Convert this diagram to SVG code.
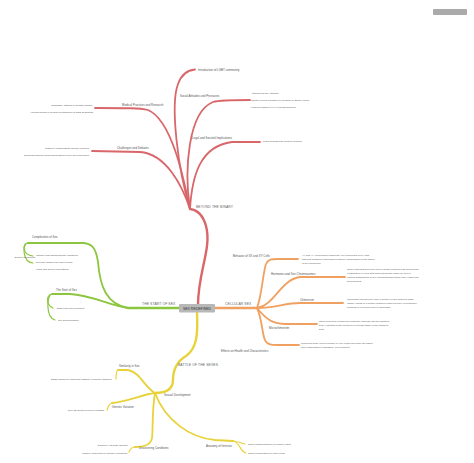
<svg xmlns="http://www.w3.org/2000/svg" width="474" height="463" viewBox="0 0 474 463">
<style>
text{font-family:"Liberation Sans",Arial,sans-serif;}
.main{font-size:3.4px;fill:#666;letter-spacing:0.1px}
.sub{font-size:2.9px;fill:#555}
.leaf{font-size:2.5px;fill:#555}
.r{stroke:#d9676a}
.g{stroke:#8cc63e}
.o{stroke:#f0a060}
.y{stroke:#e8d23a}
path{fill:none;stroke-linecap:round}
.w1{stroke-width:2.4}
.w2{stroke-width:1.8}
.w3{stroke-width:1.2}
</style>
<rect width="474" height="463" fill="#fff"/>
<rect x="433" y="9" width="34" height="6" rx="1" fill="#aaa"/>
<g id="connectors">
<!-- red -->
<path class="r w1" d="M198,305 C198,272 212,248 206,226 C203,215 197,210 190,209"/>
<path class="r w2" d="M190,209 C178,170 170,105 178,84 C182,73 188,70 195,69.5"/>
<path class="r w2" d="M190,209 C184,170 188,112 213,102 C220,100 228,100 250,100"/>
<path class="r w2" d="M190,209 C184,180 172,120 148,110 C140,108 128,108 95,108"/>
<path class="r w2" d="M190,209 C182,185 166,154 140,152 L92,151"/>
<path class="r w2" d="M190,209 C192,176 200,146 232,142 L260,142"/>
<!-- green -->
<path class="g w1" d="M179,308 L128,308"/>
<path class="g w2" d="M128,308 C106,304 100,286 98,262 C96,248 92,243 82,243 L28,243"/>
<path class="g w3" d="M28,243 C22,243 22,255 33,256"/>
<path class="g w3" d="M28,243 C22,243 22,262 33,263"/>
<path class="g w2" d="M128,308 C110,306 92,295 70,294 L52,294"/>
<path class="g w3" d="M52,294 C46,295 46,305 53,308"/>
<path class="g w3" d="M52,294 C46,295 46,318 55,320"/>
<!-- orange -->
<path class="o w1" d="M215,308 L257,308"/>
<path class="o w2" d="M257,308 C262,295 263,272 266,264 C268,259 272,259 278,259 L298,259"/>
<path class="o w2" d="M257,308 C275,305 280,280 300,277 L345,277"/>
<path class="o w2" d="M257,308 C275,308 285,303 300,303 L343,303"/>
<path class="o w2" d="M257,308 C265,318 272,324 285,324 L317,324"/>
<path class="o w2" d="M257,308 C262,318 262,334 265,340 C267,345 272,345 278,345 L299,345"/>
<!-- yellow -->
<path class="y w1" d="M197,312 C198,335 197,348 186,356 C176,362 173,370 173,380 C173,388 168,393 155,393"/>
<path class="y w2" d="M155,393 C145,388 140,372 128,370 L118,370"/>
<path class="y w3" d="M118,370 C116,371 116,377 116,379"/>
<path class="y w2" d="M155,393 C140,395 130,401 112,403"/>
<path class="y w3" d="M112,403 C108,404 108,409 107,410"/>
<path class="y w2" d="M155,393 C152,410 153,430 152,438 C151,445 145,447 135,447"/>
<path class="y w3" d="M135,447 C131,447 130,450 129,452"/>
<path class="y w2" d="M155,393 C165,420 190,438 215,440 L233,441"/>
<path class="y w3" d="M233,441 C238,441 240,443 245,444"/>
<path class="y w3" d="M233,441 C240,442 240,452 246,453"/>
</g>
<g id="root">
<rect x="179" y="304" width="36" height="8.5" rx="1.2" fill="#b8b8b8"/>
<text x="197" y="309.5" text-anchor="middle" style="font-size:3.5px;fill:#333">SEX REDEFINED</text>
</g>
<g id="beyond-the-binary"><text class="main" x="196" y="208.2">BEYOND THE BINARY</text></g>
<g id="intro-lgbt"><text class="sub" x="198" y="70.5">Introduction of LGBT community</text></g>
<g id="social-attitudes"><text class="sub" x="180" y="97.2">Social Attitudes and Pressures</text>
<text class="leaf" x="251" y="94">Attitudes Social Attitudes</text>
<text class="leaf" x="251" y="101">Intersex Social Pressure to Conform to Binary Model</text>
<text class="leaf" x="251" y="108">Lowered Cases of IVF in South Carolina</text></g>
<g id="medical-practices"><text class="sub" x="122" y="106">Medical Practices and Research</text>
<text class="leaf" x="93" y="106" text-anchor="end">Changing Attitudes in Genital Surgery</text>
<text class="leaf" x="93" y="113" text-anchor="end">Advancements in Genetic Techniques for DSD Diagnosis</text></g>
<g id="challenges"><text class="sub" x="117" y="149">Challenges and Debates</text>
<text class="leaf" x="89" y="149" text-anchor="end">Difficulty in Eliminating Gender Markers</text>
<text class="leaf" x="89" y="156" text-anchor="end">Grappling with the Conceptualization of Sex as a Spectrum</text></g>
<g id="legal-societal"><text class="sub" x="192" y="139">Legal and Societal Implications</text>
<text class="leaf" x="263" y="141.5">Legal Rulings and Medical Practice</text></g>
<g id="start-of-sex-main"><text class="main" x="142" y="305">THE START OF SEX</text></g>
<g id="complexities"><text class="sub" x="32" y="238">Complexities of Sex</text>
<text class="leaf" x="35" y="258" text-anchor="end">Gender Conditions</text>
<text class="leaf" x="36" y="256">Intersex and Chromosomal Variations</text>
<text class="leaf" x="36" y="263">Diversity within Male and Female</text>
<text class="leaf" x="36" y="270">Legal and Social Implications</text></g>
<g id="start-of-sex"><text class="sub" x="56" y="291">The Start of Sex</text>
<text class="leaf" x="57" y="309">Embryonic Development</text>
<text class="leaf" x="58" y="321">Sex Determination</text></g>
<g id="cellular-sex"><text class="main" x="225" y="304.5">CELLULAR SEX</text></g>
<g id="behavior"><text class="sub" x="233" y="256.5">Behavior of XX and XY Cells</text>
<text class="leaf" x="302" y="256">XX and XY cells behave differently on a molecular level, with</text>
<text class="leaf" x="302" y="260">different metabolic responses to stimuli, independent of the action</text>
<text class="leaf" x="302" y="264">of sex hormones</text></g>
<g id="hormones"><text class="sub" x="271" y="275">Hormones and Sex Chromosomes</text>
<text class="leaf" x="347" y="270">Some individuals develop from a single fertilized egg but become</text>
<text class="leaf" x="347" y="274">a patchwork of cells with different genetic make-up due to</text>
<text class="leaf" x="347" y="278">various distributions of sex chromosomes during early embryonic</text>
<text class="leaf" x="347" y="282">development</text></g>
<g id="chimerism"><text class="sub" x="300" y="300.5">Chimerism</text>
<text class="leaf" x="347" y="300">Individuals can develop from a mixture of two fertilized eggs,</text>
<text class="leaf" x="347" y="304">usually owing to a merger between embryos early in pregnancy,</text>
<text class="leaf" x="347" y="308">resulting in a cellular form of chimerism.</text></g>
<g id="microchimerism"><text class="sub" x="269" y="329">Microchimerism</text>
<text class="leaf" x="319" y="322">Stem cells from a fetus can cross the placenta into the mother's</text>
<text class="leaf" x="319" y="326">body, resulting in the presence of foreign tissue in the mother's</text>
<text class="leaf" x="319" y="330">body</text></g>
<g id="effects"><text class="sub" x="221" y="351.5">Effects on Health and Characteristics</text>
<text class="leaf" x="301" y="344">Peppering male cells in female or vice versa can make the tissue</text>
<text class="leaf" x="301" y="348">more susceptible to diseases, even cancers</text></g>
<g id="battle"><text class="main" x="178" y="366">BATTLE OF THE SEXES</text></g>
<g id="sexual-development"><text class="sub" x="164" y="396">Sexual Development</text></g>
<g id="similarity"><text class="sub" x="119" y="367">Similarity in Sex</text>
<text class="leaf" x="112" y="380" text-anchor="end">DSDs caused by hormonal signals (Hormone changes)</text></g>
<g id="genetic-variation"><text class="sub" x="112" y="408">Genetic Variation</text>
<text class="leaf" x="104" y="411" text-anchor="end">Over 25 genes involved in DSDs</text></g>
<g id="discovering"><text class="sub" x="139" y="448.5">Discovering Conditions</text>
<text class="leaf" x="128" y="446" text-anchor="end">Discovery through Infertility</text>
<text class="leaf" x="127" y="453.5" text-anchor="end">Surgery unneeded in Intersex conditions</text></g>
<g id="anatomy"><text class="sub" x="206" y="447">Anatomy of Intersex</text>
<text class="leaf" x="248" y="445">Small Masculinization in Female Fetus</text>
<text class="leaf" x="248" y="454">Small Feminization in Male Fetus</text></g>
</svg>
